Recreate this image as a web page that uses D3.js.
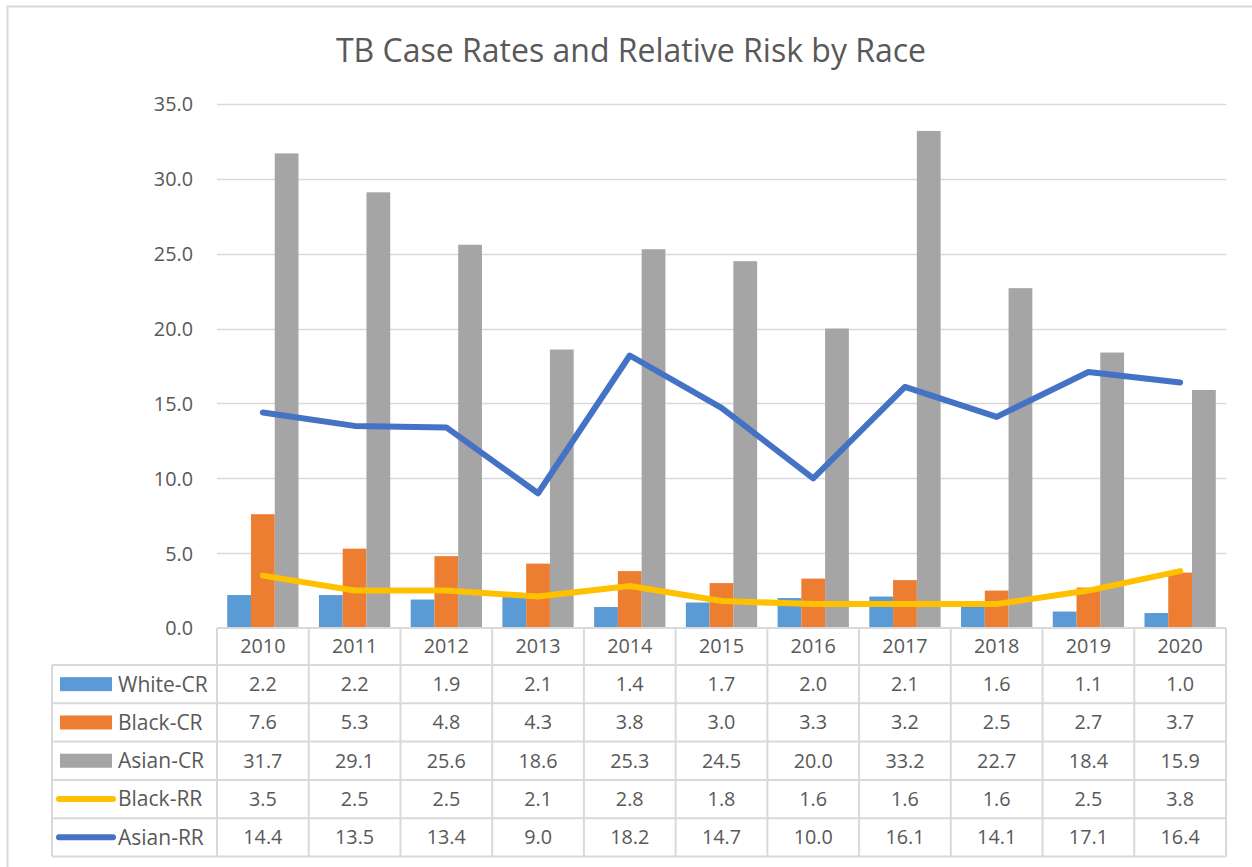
<!DOCTYPE html>
<html>
<head>
<meta charset="utf-8">
<script src="https://cdn.jsdelivr.net/npm/d3@7"></script>
<style>
  body { margin: 0; background: #fff; }
  text { font-family: "Open Sans", "DejaVu Sans", sans-serif; fill: #595959; }
</style>
</head>
<body>
<div id="chart"></div>
<script>
// data
const years = ["2010", "2011", "2012", "2013", "2014", "2015", "2016", "2017", "2018", "2019", "2020"];
const whiteCR = [2.2, 2.2, 1.9, 2.1, 1.4, 1.7, 2.0, 2.1, 1.6, 1.1, 1.0];
const blackCR = [7.6, 5.3, 4.8, 4.3, 3.8, 3.0, 3.3, 3.2, 2.5, 2.7, 3.7];
const asianCR = [31.7, 29.1, 25.6, 18.6, 25.3, 24.5, 20.0, 33.2, 22.7, 18.4, 15.9];
const blackRR = [3.5, 2.5, 2.5, 2.1, 2.8, 1.8, 1.6, 1.6, 1.6, 2.5, 3.8];
const asianRR = [14.4, 13.5, 13.4, 9.0, 18.2, 14.7, 10.0, 16.1, 14.1, 17.1, 16.4];
const yTicks = [0, 5, 10, 15, 20, 25, 30, 35];

const barSeries = [
    { name: "White-CR", values: whiteCR, color: "#5B9BD5" },
    { name: "Black-CR", values: blackCR, color: "#ED7D31" },
    { name: "Asian-CR", values: asianCR, color: "#A5A5A5" }
];
const lineSeries = [
    { name: "Black-RR", values: blackRR, color: "#FFC000" },
    { name: "Asian-RR", values: asianRR, color: "#4472C4" }
];
const rows = barSeries.concat(lineSeries);

const width = 1252, height = 867;
const plot = { left: 217, right: 1226, top: 104, bottom: 628 };
const rowH = 38.3;
const headerH = 37;
const legendLeft = 52;
const numSize = 19.8;   // digits in axis + table
const labelSize = 21;   // series names

const svg = d3.select("#chart").append("svg")
    .attr("width", width).attr("height", height);

// outer chart border
svg.append("rect")
    .attr("x", 7.5).attr("y", 6.5)
    .attr("width", width + 10).attr("height", height + 10)
    .attr("fill", "none").attr("stroke", "#D9D9D9").attr("stroke-width", 2);

// title
svg.append("text")
    .attr("x", 631).attr("y", 62)
    .attr("text-anchor", "middle")
    .attr("font-size", 32)
    .text("TB Case Rates and Relative Risk by Race");

const x = d3.scaleBand().domain(years).range([plot.left, plot.right]);
const xInner = d3.scaleBand().domain(barSeries.map(s => s.name))
    .range([0, x.bandwidth()]).paddingOuter(0.43).paddingInner(0);
const y = d3.scaleLinear().domain([0, 35]).range([plot.bottom, plot.top]);

// gridlines
svg.append("g").selectAll("line")
    .data(yTicks.filter(t => t > 0)).enter().append("line")
    .attr("x1", plot.left).attr("x2", plot.right)
    .attr("y1", d => Math.round(y(d)) + 0.5).attr("y2", d => Math.round(y(d)) + 0.5)
    .attr("stroke", "#D9D9D9").attr("stroke-width", 1.3);

// y axis labels
const yAxis = svg.append("g")
    .attr("transform", `translate(${plot.left - 24},0)`)
    .call(d3.axisLeft(y).tickValues(yTicks).tickFormat(d3.format(".1f")).tickSize(0));
yAxis.select(".domain").remove();
yAxis.selectAll("text")
    .attr("font-size", numSize).attr("fill", "#595959")
    .attr("font-family", "'Open Sans', sans-serif")
    .attr("dy", "0.35em").attr("x", 0);

// bars
const groups = svg.append("g").selectAll("g")
    .data(years).enter().append("g")
    .attr("transform", d => `translate(${x(d)},0)`);
groups.selectAll("rect")
    .data((d, i) => barSeries.map(s => ({ name: s.name, value: s.values[i], color: s.color })))
    .enter().append("rect")
    .attr("x", d => xInner(d.name))
    .attr("width", xInner.bandwidth())
    .attr("y", d => y(d.value))
    .attr("height", d => y(0) - y(d.value))
    .attr("fill", d => d.color);

// lines
const line = d3.line()
    .x((d, i) => x(years[i]) + x.bandwidth() / 2)
    .y(d => y(d));
svg.append("g").selectAll("path")
    .data(lineSeries).enter().append("path")
    .attr("d", d => line(d.values))
    .attr("fill", "none")
    .attr("stroke", d => d.color)
    .attr("stroke-width", 6)
    .attr("stroke-linecap", "round")
    .attr("stroke-linejoin", "round");

// data table
const table = svg.append("g");
const tableBottom = plot.bottom + headerH + rowH * rows.length;
const gridColor = "#D9D9D9";

// vertical lines at category boundaries
const bounds = years.map(yr => x(yr)).concat([plot.right]);
table.selectAll("line.v")
    .data(bounds).enter().append("line")
    .attr("x1", d => d).attr("x2", d => d)
    .attr("y1", plot.bottom).attr("y2", tableBottom)
    .attr("stroke", gridColor).attr("stroke-width", 2);
table.append("line")
    .attr("x1", legendLeft).attr("x2", legendLeft)
    .attr("y1", plot.bottom + headerH).attr("y2", tableBottom)
    .attr("stroke", gridColor).attr("stroke-width", 2);

// horizontal lines
table.append("line")
    .attr("x1", plot.left).attr("x2", plot.right)
    .attr("y1", plot.bottom).attr("y2", plot.bottom)
    .attr("stroke", gridColor).attr("stroke-width", 2);
table.selectAll("line.h")
    .data(d3.range(rows.length + 1)).enter().append("line")
    .attr("x1", legendLeft).attr("x2", plot.right)
    .attr("y1", i => plot.bottom + headerH + i * rowH)
    .attr("y2", i => plot.bottom + headerH + i * rowH)
    .attr("stroke", gridColor).attr("stroke-width", 2);

// header years
table.selectAll("text.year")
    .data(years).enter().append("text")
    .attr("x", d => x(d) + x.bandwidth() / 2)
    .attr("y", plot.bottom + headerH / 2)
    .attr("dy", "0.35em")
    .attr("text-anchor", "middle")
    .attr("font-size", numSize)
    .text(d => d);

// rows
rows.forEach((s, r) => {
    const cy = plot.bottom + headerH + r * rowH + rowH / 2;
    if (r < barSeries.length) {
        table.append("rect")
            .attr("x", 60).attr("y", cy - 7)
            .attr("width", 52).attr("height", 14)
            .attr("fill", s.color);
    } else {
        table.append("line")
            .attr("x1", 59).attr("x2", 113)
            .attr("y1", cy).attr("y2", cy)
            .attr("stroke", s.color).attr("stroke-width", 6)
            .attr("stroke-linecap", "round");
    }
    table.append("text")
        .attr("x", 118).attr("y", cy).attr("dy", "0.35em")
        .attr("font-size", labelSize)
        .text(s.name);
    table.selectAll(null)
        .data(s.values).enter().append("text")
        .attr("x", (d, i) => x(years[i]) + x.bandwidth() / 2)
        .attr("y", cy).attr("dy", "0.35em")
        .attr("text-anchor", "middle")
        .attr("font-size", numSize)
        .text(d => d3.format(".1f")(d));
});
</script>
</body>
</html>
